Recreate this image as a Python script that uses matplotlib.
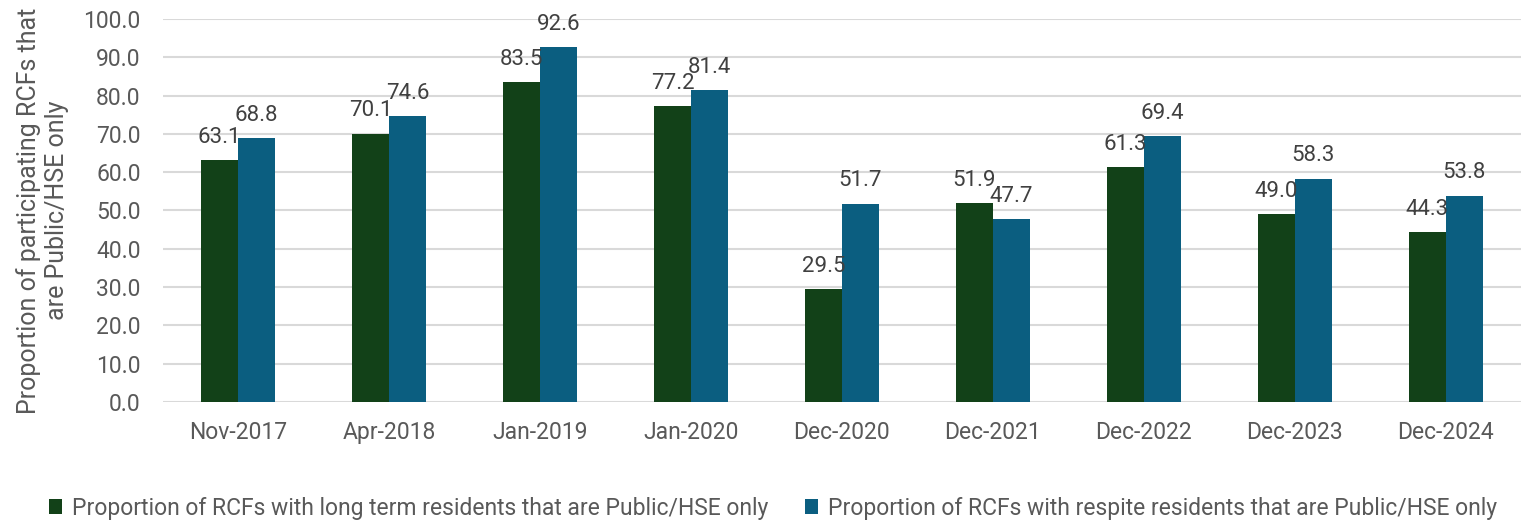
import numpy as np
import matplotlib.pyplot as plt

categories = ["Nov-2017", "Apr-2018", "Jan-2019", "Jan-2020", "Dec-2020",
              "Dec-2021", "Dec-2022", "Dec-2023", "Dec-2024"]
long_term = [63.1, 70.1, 83.5, 77.2, 29.5, 51.9, 61.3, 49.0, 44.3]
respite = [68.8, 74.6, 92.6, 81.4, 51.7, 47.7, 69.4, 58.3, 53.8]
series_names = ["Proportion of RCFs with long term residents that are Public/HSE only",
                "Proportion of RCFs with respite residents that are Public/HSE only"]

GREEN = "#124118"
BLUE = "#0B5E80"
TEXT = "#595959"

plt.rcParams['font.family'] = ['Roboto', 'DejaVu Sans']

fig = plt.figure(figsize=(15.21, 5.22), dpi=100)
ax = fig.add_axes([0.107, 0.2299, 0.893, 0.7337])

x = np.arange(len(categories))
w = 0.245
b1 = ax.bar(x - w / 2, long_term, w, color=GREEN, label=series_names[0], zorder=3)
b2 = ax.bar(x + w / 2, respite, w, color=BLUE, label=series_names[1], zorder=3)

# value labels above each bar
for bars, vals in ((b1, long_term), (b2, respite)):
    for r, v in zip(bars, vals):
        ax.annotate("%.1f" % v, (r.get_x() + r.get_width() / 2, v),
                    xytext=(0, 9), textcoords="offset points",
                    ha="center", va="bottom", fontsize=16, color="#404040")

ax.set_xlim(-0.5, len(categories) - 0.5)
ax.set_ylim(0, 100)
ax.set_yticks(np.arange(0, 101, 10))
ax.set_yticklabels(["%.1f" % t for t in np.arange(0, 101, 10)])
ax.set_xticks(x)
ax.set_xticklabels(categories)
ax.tick_params(axis="both", length=0, labelsize=16.5, colors=TEXT)
ax.tick_params(axis="y", pad=16)
ax.tick_params(axis="x", pad=14)
ax.grid(axis="y", color="#D9D9D9", linewidth=1.5, zorder=0)
for s in ax.spines.values():
    s.set_visible(False)

ax.set_ylabel("Proportion of participating RCFs that\nare Public/HSE only",
              fontsize=18, color=TEXT, labelpad=10, linespacing=1.25)

fig.legend(handles=[b1, b2], loc="lower center", ncol=2, frameon=False,
           bbox_to_anchor=(0.508, -0.035), handlelength=0.6,
           handleheight=0.6, handletextpad=0.4, columnspacing=1.6,
           labelcolor=TEXT, prop={'family': ['Roboto'], 'size': 16.5})

fig.savefig("out.png", dpi=100)
